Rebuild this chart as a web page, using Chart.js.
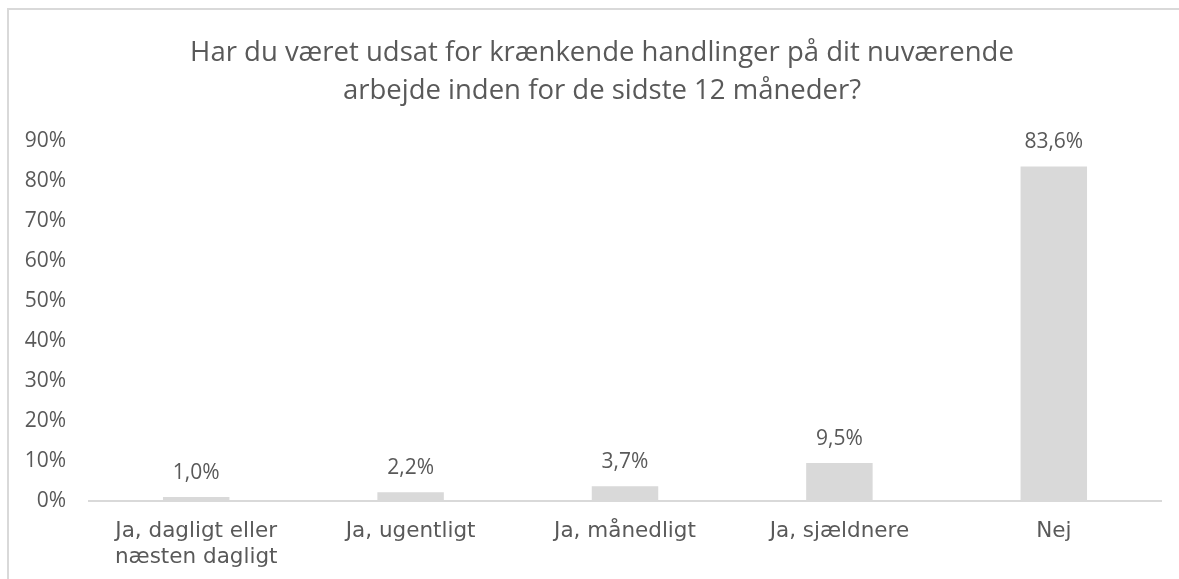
<!DOCTYPE html>
<html>
<head>
<meta charset="utf-8">
<script src="https://cdn.jsdelivr.net/npm/chart.js@4/dist/chart.umd.min.js"></script>
<style>
  html, body { margin: 0; padding: 0; background: #fff; }
  #wrap { position: relative; width: 1179px; height: 579px; overflow: hidden; }
  #frame {
    position: absolute; left: 7px; top: 8px; width: 1300px; height: 700px;
    border-top: 2px solid #d9d9d9; border-left: 2px solid #d9d9d9;
  }
  canvas { position: absolute; left: 0; top: 0; }
</style>
</head>
<body>
<div id="wrap">
  <div id="frame"></div>
  <canvas id="chart" width="1179" height="579"></canvas>
</div>
<script>
const categories = [
  ["Ja, dagligt eller", "næsten dagligt"],
  "Ja, ugentligt",
  "Ja, månedligt",
  "Ja, sjældnere",
  "Nej"
];
const shares = [1.0, 2.2, 3.7, 9.5, 83.6];
const yTicks = [0, 10, 20, 30, 40, 50, 60, 70, 80, 90];

const textColor = "#595959";
const fmt = v => v.toFixed(1).replace(".", ",") + "%";

// value labels above each bar
const barLabels = {
  id: "barLabels",
  afterDatasetsDraw(chart) {
    const ctx = chart.ctx;
    const meta = chart.getDatasetMeta(0);
    ctx.save();
    ctx.font = "21px 'Open Sans'";
    ctx.fillStyle = textColor;
    ctx.textAlign = "center";
    ctx.textBaseline = "middle";
    meta.data.forEach((bar, i) => {
      ctx.fillText(fmt(shares[i]), bar.x, bar.y - 24);
    });
    ctx.restore();
  }
};

// centre the title on the framed box rather than the whole canvas
const titleShift = {
  id: "titleShift",
  afterLayout(chart) {
    if (chart.titleBlock) chart.titleBlock.left = 43;
  }
};

new Chart(document.getElementById("chart"), {
  type: "bar",
  data: {
    labels: categories,
    datasets: [{
      data: shares,
      backgroundColor: "#d9d9d9",
      barPercentage: 0.31,
      categoryPercentage: 1
    }]
  },
  options: {
    responsive: false,
    animation: false,
    layout: { padding: { left: 0, right: 18, top: 0, bottom: 0 } },
    plugins: {
      legend: { display: false },
      tooltip: { enabled: false },
      title: {
        display: true,
        text: ["Har du været udsat for krænkende handlinger på dit nuværende",
               "arbejde inden for de sidste 12 måneder?"],
        color: textColor,
        font: { family: "'Open Sans'", size: 27.5, weight: "normal", lineHeight: 1.38 },
        padding: { top: 34, bottom: 31 }
      }
    },
    scales: {
      x: {
        grid: { display: false, drawTicks: false },
        border: { color: "#d9d9d9", width: 2 },
        ticks: {
          color: textColor,
          font: { family: "'DejaVu Sans'", size: 21.5, lineHeight: 1.22 },
          padding: 17,
          maxRotation: 0
        },
        afterFit(scale) { scale.height = 78; }
      },
      y: {
        min: 0,
        max: 90,
        afterBuildTicks(scale) { scale.ticks = yTicks.map(v => ({ value: v })); },
        grid: { display: false, drawTicks: false },
        border: { display: false },
        ticks: {
          color: textColor,
          font: { family: "'Open Sans'", size: 21 },
          padding: 23,
          callback: v => v + "%"
        },
        afterFit(scale) { scale.width = 89; }
      }
    }
  },
  plugins: [barLabels, titleShift]
});
</script>
</body>
</html>
